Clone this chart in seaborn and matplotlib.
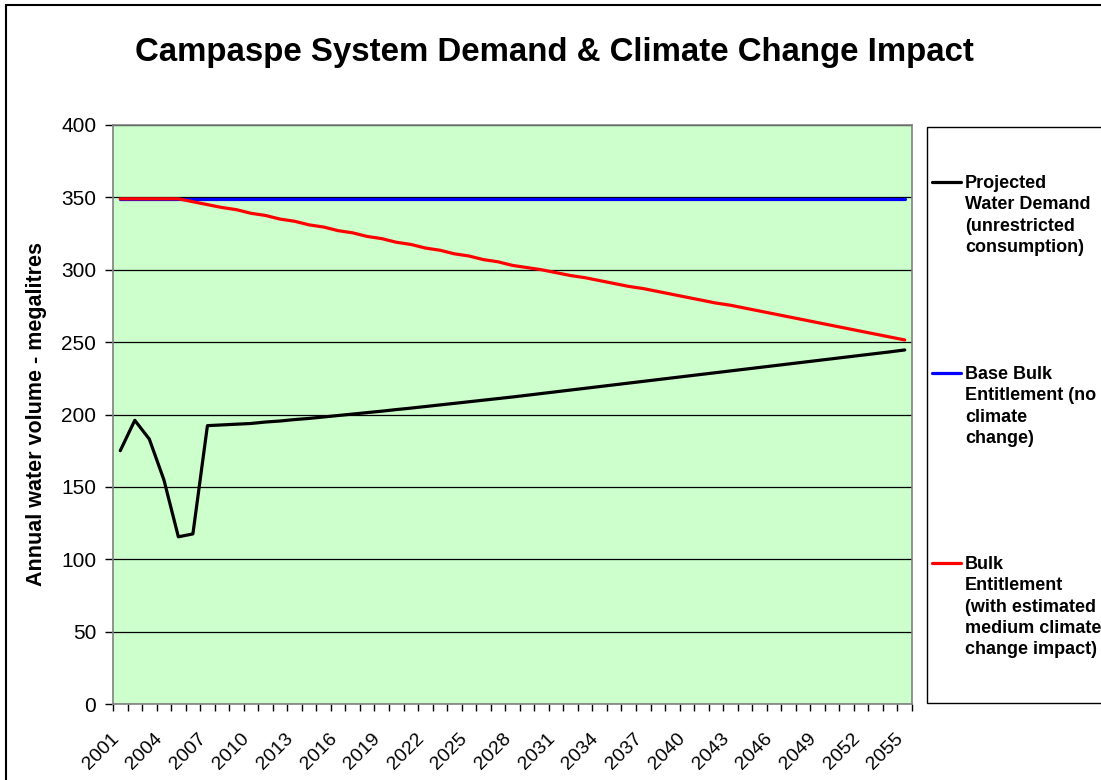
import matplotlib
matplotlib.use("Agg")
import matplotlib.pyplot as plt
from matplotlib.patches import Rectangle
from matplotlib.lines import Line2D
import matplotlib.transforms as mtransforms
import numpy as np
import pandas as pd
import seaborn as sns

years = list(range(2001, 2056))

demand = [175, 196, 183, 155, 115.5, 117.5, 192.3, 192.8, 193.3, 193.8,
          194.8, 195.5, 196.5, 197.3, 198.3, 199.3, 200.3, 201.3, 202.3, 203.4,
          204.4, 205.5, 206.6, 207.7, 208.8, 209.9, 211.0, 212.1, 213.3, 214.5,
          215.7, 216.9, 218.1, 219.3, 220.5, 221.7, 222.9, 224.1, 225.3, 226.5,
          227.7, 228.9, 230.1, 231.3, 232.5, 233.7, 234.9, 236.1, 237.3, 238.5,
          239.7, 240.9, 242.1, 243.3, 244.6]

base = [349] * 55

climate = [349, 349, 349, 349, 349, 347, 345, 343, 341.5, 339,
           337.5, 335, 333.5, 331, 329.5, 327, 325.5, 323, 321.5, 319,
           317.5, 315, 313.5, 311, 309.5, 307, 305.5, 303, 301.5, 300,
           298, 296, 294.5, 292.5, 290.5, 288.5, 287, 285, 283, 281,
           279, 277, 275.5, 273.5, 271.5, 269.5, 267.5, 265.5, 263.5, 261.5,
           259.5, 257.5, 255.5, 253.5, 251.5]

series_names = ["Projected\nWater Demand\n(unrestricted\nconsumption)",
                "Base Bulk\nEntitlement (no\nclimate\nchange)",
                "Bulk\nEntitlement\n(with estimated\nmedium climate\nchange impact)"]
series_colors = ["#000000", "#0000FF", "#FF0000"]

title = "Campaspe System Demand & Climate Change Impact"
ylabel = "Annual water volume - megalitres"
yticks = [0, 50, 100, 150, 200, 250, 300, 350, 400]
xtick_years = years[::3]

df = pd.DataFrame({
    "Year": years * 3,
    "Value": demand + base + climate,
    "Series": [series_names[0]] * 55 + [series_names[1]] * 55 + [series_names[2]] * 55,
})

sns.set_theme(style="white")
plt.rcParams["font.family"] = ["Liberation Sans", "DejaVu Sans"]
plt.rcParams["text.color"] = "black"
plt.rcParams["axes.labelcolor"] = "black"
plt.rcParams["xtick.color"] = "black"
plt.rcParams["ytick.color"] = "black"

W, H = 1101, 780
fig = plt.figure(figsize=(W / 100, H / 100), dpi=100)
fig.patch.set_facecolor("white")

ax = fig.add_axes([113 / W, 1 - 704 / H, (912 - 113) / W, (704 - 125) / H])
ax.set_facecolor("#CCFFCC")

sns.lineplot(data=df, x="Year", y="Value", hue="Series", hue_order=series_names,
             palette=dict(zip(series_names, series_colors)), linewidth=2.3,
             legend=False, sort=False, ax=ax)
for ln in ax.lines:
    ln.set_solid_joinstyle("round")
    ln.set_solid_capstyle("round")

ax.set_xlim(2000.5, 2055.5)
ax.set_ylim(0, 400)
ax.set_yticks(yticks)
ax.set_yticklabels([str(v) for v in yticks])
ax.set_xticks(np.arange(2000.5, 2056, 1.0), minor=True)
ax.tick_params(axis="x", which="major", length=0, labelsize=14, pad=0, colors="black")
ax.tick_params(axis="x", which="minor", length=5, width=1, color="black", direction="out", bottom=True)
ax.tick_params(axis="y", which="major", length=6, width=1, color="black", direction="out",
               labelsize=15, pad=6, left=True, labelcolor="black")
ax.set_xticks(xtick_years)
ax.set_xticklabels([str(y) for y in xtick_years], rotation=45, ha="right",
                   va="top", rotation_mode="anchor")
offset = mtransforms.ScaledTranslation(-10 / 100, -26 / 100, fig.dpi_scale_trans)
for tick in ax.xaxis.get_major_ticks():
    tick.label1.set_transform(tick.label1.get_transform() + offset)

ax.yaxis.grid(True, color="black", linewidth=0.9)
ax.xaxis.grid(False)
ax.set_axisbelow(True)
for s in ax.spines.values():
    s.set_color("#808080")
    s.set_linewidth(1.2)
ax.set_xlabel("")
ax.set_ylabel(ylabel, fontsize=15.5, fontweight="bold", labelpad=10, color="black")

fig.text(554 / W, 1 - 52 / H, title, ha="center", va="center", fontsize=23.8,
         fontweight="bold", color="black")

# outer chart border
fig.add_artist(Rectangle((6 / W, -0.1), 1.2, 1 - 5 / H + 0.1, transform=fig.transFigure,
                         fill=False, ec="black", lw=1.5))
# legend box
fig.add_artist(Rectangle((927 / W, 1 - 703 / H), 1.0, (703 - 127) / H,
                         transform=fig.transFigure, fc="white", ec="black", lw=1.0))
entry_y = [182, 373, 563]
for name, col, yy in zip(series_names, series_colors, entry_y):
    fig.add_artist(Line2D([932 / W, 961 / W], [1 - yy / H, 1 - yy / H],
                          transform=fig.transFigure, color=col, lw=2.3))
    fig.text(965 / W, 1 - (yy - 7) / H, name, ha="left", va="top", fontsize=13,
             fontweight="bold", linespacing=1.33, color="black")

fig.savefig("out.png", dpi=100)
